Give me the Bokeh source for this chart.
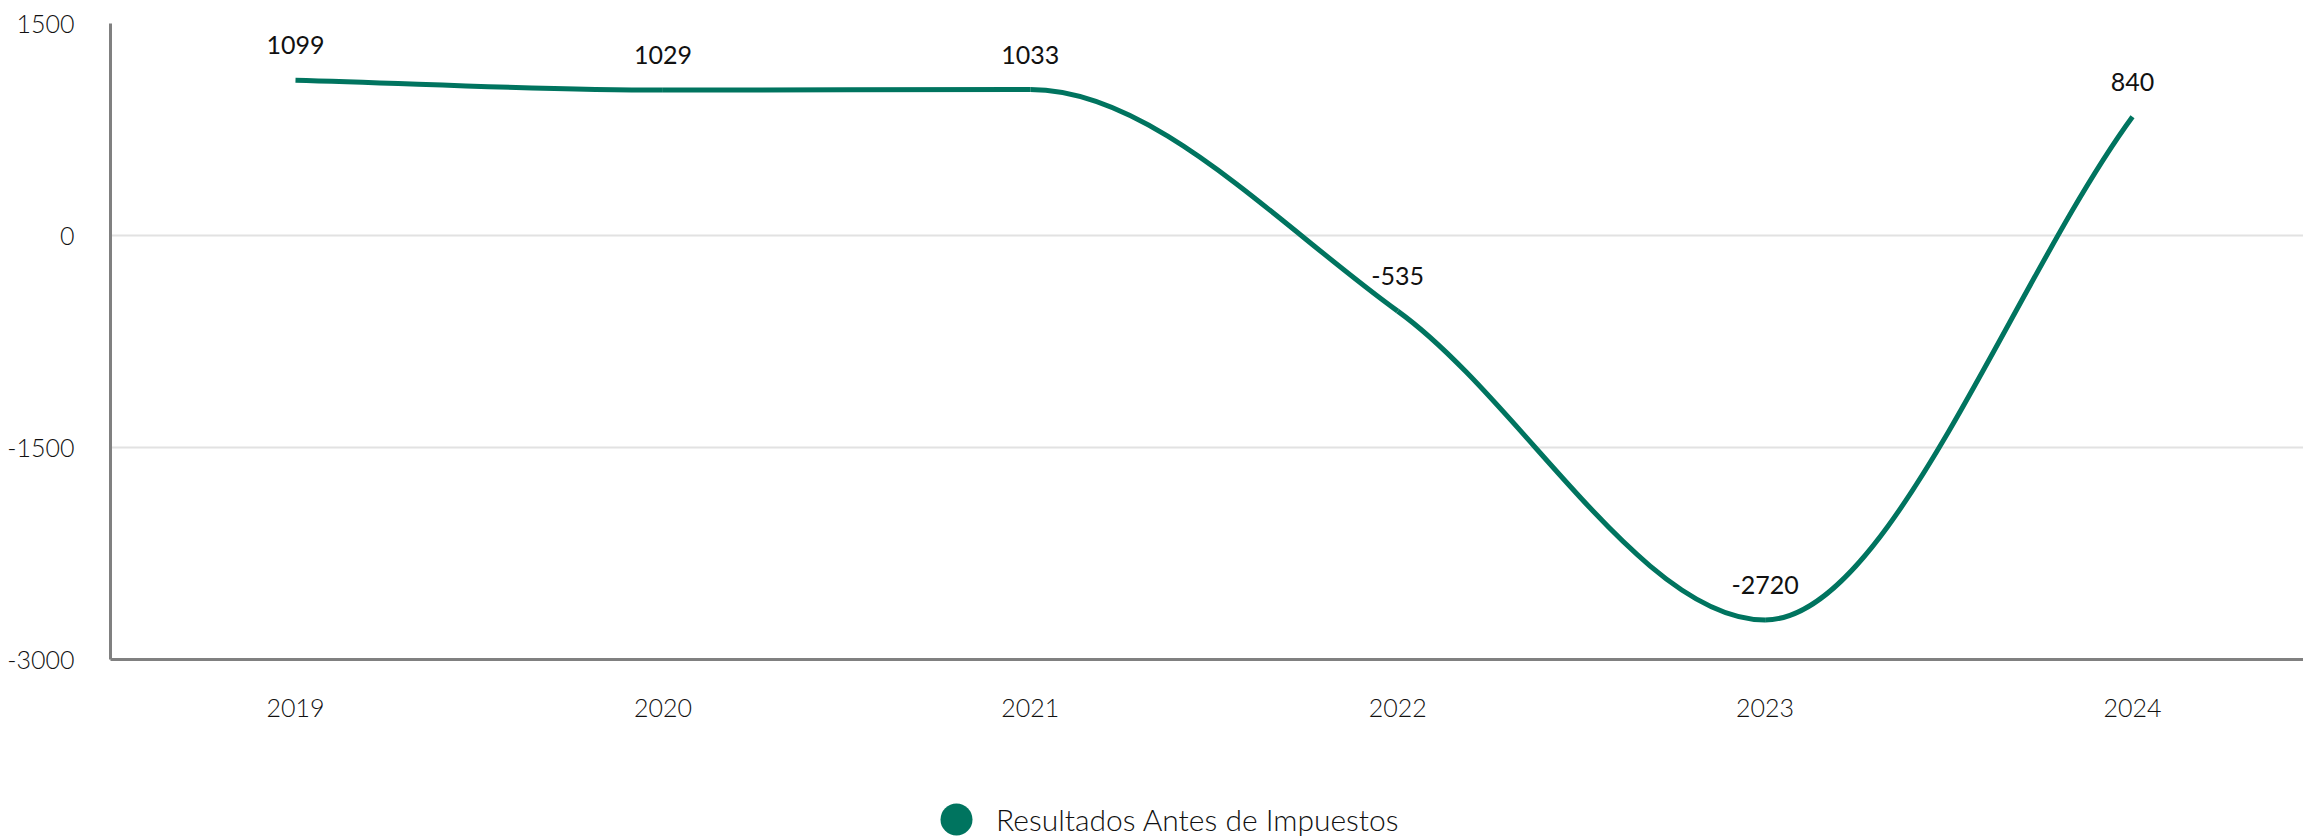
import numpy as np
from bokeh.plotting import figure
from bokeh.layouts import column
from bokeh.models import ColumnDataSource, LabelSet, Legend, LegendItem, FixedTicker, Range1d
from bokeh.core.properties import value
from bokeh.embed import file_html
from bokeh.resources import INLINE

# ---- data ----
years = ["2019", "2020", "2021", "2022", "2023", "2024"]
values = [1099, 1029, 1033, -535, -2720, 840]
y_ticks = [-3000, -1500, 0, 1500]
y_tick_labels = ["-3000", "-1500", "0", "1500"]
series_name = "Resultados Antes de Impuestos"

TEAL = "#00745F"
LIGHT_FONT = "'Lato Light', Lato"
REG_FONT = "Lato"

x = np.arange(len(years), dtype=float)
y = np.array(values, dtype=float)

# monotone cubic (Fritsch-Carlson) tangents -> bezier segments
n = len(x)
dx = np.diff(x)
dk = np.diff(y) / dx
m = np.zeros(n)
m[0] = dk[0]
m[-1] = dk[-1]
for i in range(1, n - 1):
    if dk[i - 1] == 0 or dk[i] == 0 or np.sign(dk[i - 1]) != np.sign(dk[i]):
        m[i] = 0.0
    else:
        m[i] = (dk[i - 1] + dk[i]) / 2.0
for i in range(n - 1):
    if abs(dk[i]) < 1e-9:
        m[i] = m[i + 1] = 0.0
        continue
    a = m[i] / dk[i]
    b = m[i + 1] / dk[i]
    s = a * a + b * b
    if s > 9:
        t = 3 / np.sqrt(s)
        m[i] = a * t * dk[i]
        m[i + 1] = b * t * dk[i]

seg = dict(
    x0=x[:-1], y0=y[:-1], x1=x[1:], y1=y[1:],
    cx0=x[:-1] + dx / 3, cy0=y[:-1] + m[:-1] * dx / 3,
    cx1=x[1:] - dx / 3, cy1=y[1:] - m[1:] * dx / 3,
)

W = 2303
p = figure(width=W, height=760, output_backend="svg", toolbar_location=None,
           x_range=Range1d(-0.5035, 5.4654), y_range=Range1d(-3000, 1500),
           min_border_left=110, min_border_top=23, min_border_right=0,
           min_border_bottom=101)
p.outline_line_color = None
p.background_fill_color = "white"

p.bezier(x0="x0", y0="y0", x1="x1", y1="y1", cx0="cx0", cy0="cy0", cx1="cx1", cy1="cy1",
         source=ColumnDataSource(seg), line_color=TEAL, line_width=5)

lab_src = ColumnDataSource(dict(x=x, y=y, t=[str(v) for v in values]))
p.add_layout(LabelSet(x="x", y="y", text="t", source=lab_src, y_offset=35,
                      text_align="center", text_baseline="middle",
                      text_font=value(REG_FONT), text_font_size="25px", text_color="#111111"))

# axes
p.xaxis.ticker = FixedTicker(ticks=list(range(len(years))))
p.xaxis.major_label_overrides = {i: yr for i, yr in enumerate(years)}
p.yaxis.ticker = FixedTicker(ticks=y_ticks)
p.yaxis.major_label_overrides = {t: s for t, s in zip(y_ticks, y_tick_labels)}
for ax in (p.xaxis[0], p.yaxis[0]):
    ax.axis_line_color = "#808080"
    ax.axis_line_width = 3
    ax.major_tick_line_color = None
    ax.minor_tick_line_color = None
    ax.major_label_text_font = LIGHT_FONT
    ax.major_label_text_font_size = "25px"
    ax.major_label_text_color = "#111111"
p.xaxis.major_label_standoff = 33
p.yaxis.major_label_standoff = 30

p.xgrid.grid_line_color = None
p.ygrid.ticker = FixedTicker(ticks=y_ticks)
p.ygrid.grid_line_color = "#e2e2e2"
p.ygrid.grid_line_width = 2

# legend strip below the chart (its frame is aligned with the chart frame)
q = figure(width=W, height=79, output_backend="svg", toolbar_location=None,
           x_range=Range1d(0, 1), y_range=Range1d(0, 1),
           x_axis_type=None, y_axis_type=None,
           min_border_left=0, min_border_right=0, min_border_top=0, min_border_bottom=0)
q.outline_line_color = None
q.xgrid.visible = False
q.ygrid.visible = False
leg_r = q.scatter(x=[0.5], y=[0.5], size=0, marker="circle", fill_color=TEAL, line_color=None)
legend = Legend(items=[LegendItem(label=series_name, renderers=[leg_r])],
                location=(806, -20), orientation="horizontal",
                glyph_width=80, glyph_height=80, label_standoff=0,
                padding=0, margin=0, spacing=0,
                border_line_color=None, background_fill_alpha=0,
                label_text_font=LIGHT_FONT, label_text_font_size="30px",
                label_text_color="#111111")
q.add_layout(legend)

open("out.html", "w").write(file_html(column(p, q, spacing=0), INLINE))
